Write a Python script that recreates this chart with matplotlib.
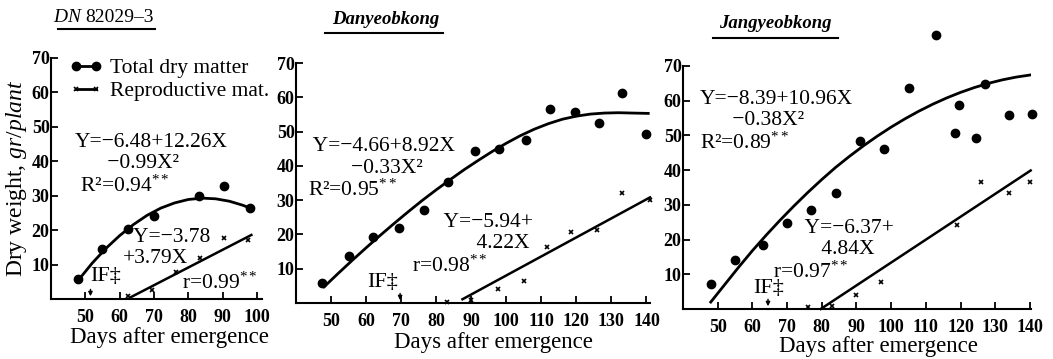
import matplotlib
matplotlib.use("Agg")
import matplotlib.pyplot as plt
from matplotlib.lines import Line2D

plt.rcParams['font.family'] = ['Liberation Serif', 'DejaVu Serif']
plt.rcParams['mathtext.fontset'] = 'custom'
plt.rcParams['mathtext.rm'] = 'Liberation Serif'
plt.rcParams['mathtext.it'] = 'Liberation Serif:italic'

# --- data ---
# DN82029-3
p1_days = [48, 55, 62.5, 70, 83, 90.5, 98]
p1_total = [5.7, 14.4, 20.2, 24.1, 29.8, 32.7, 26.3]
p1_rep_days = [62.5, 69.5, 76.5, 83.5, 90.5, 97.5]
p1_rep = [1.0, 2.6, 7.9, 11.8, 17.8, 17.0]
p1_fit_days = [48, 52, 56, 60, 64, 68, 72, 76, 80, 84, 88, 92, 96, 98]
p1_fit = [5.5, 10.4, 14.7, 18.4, 21.6, 24.3, 26.4, 27.9, 28.9, 29.3, 29.1, 28.4, 27.2, 26.4]
p1_rep_fit_days = [63.2, 98.4]
p1_rep_fit = [0.5, 18.6]

# Danyeobkong
p2_days = [47.5, 55, 62, 69.5, 76.5, 83.5, 91, 98, 105.5, 112.5, 119.5, 126.5, 133, 140]
p2_total = [5.9, 13.7, 19.3, 22.0, 27.1, 35.2, 44.2, 44.9, 47.6, 56.6, 55.8, 52.4, 61.3, 49.3]
p2_rep_days = [83, 90, 97.5, 105, 111.5, 118.5, 126, 133, 141]
p2_rep = [0.3, 1.0, 4.0, 6.4, 16.2, 20.6, 21.3, 32.0, 30.0]
p2_fit_days = [48, 52, 56, 60, 64, 68, 72, 76, 80, 84, 88, 92, 96, 100, 104, 108,
               112, 116, 120, 124, 128, 132, 136, 140.5]
p2_fit = [4.7, 8.6, 12.4, 16.1, 19.7, 23.2, 26.6, 29.9, 33.0, 36.0, 38.9, 41.6, 44.2,
          46.6, 48.8, 50.7, 52.3, 53.6, 54.5, 55.1, 55.4, 55.5, 55.4, 55.3]
p2_rep_fit_days = [87.5, 141]
p2_rep_fit = [1.1, 30.8]

# Jangyeobkong
p3_days = [48, 55, 63, 70, 77, 84, 91, 98, 105, 113, 118.5, 119.5, 124.5, 127, 134, 140.5]
p3_total = [7.1, 14.0, 18.5, 24.8, 28.4, 33.5, 48.3, 46.1, 63.7, 79.0, 50.8, 58.7,
            49.3, 64.7, 55.9, 56.3]
p3_rep_days = [76, 83, 90, 97, 119, 126, 134, 140]
p3_rep = [0.5, 0.8, 4.1, 7.7, 24.3, 36.7, 33.5, 36.7]
p3_fit_days = [48, 52, 56, 60, 64, 68, 72, 76, 80, 84, 88, 92, 96, 100, 104, 108,
               112, 116, 120, 124, 128, 132, 136, 140]
p3_fit = [2.0, 7.0, 12.0, 16.8, 21.3, 25.6, 29.7, 33.6, 37.3, 40.8, 44.0, 47.0, 49.8,
          52.4, 54.8, 57.0, 59.0, 60.8, 62.4, 63.8, 65.0, 66.0, 66.8, 67.4]
p3_rep_fit_days = [79.7, 140.2]
p3_rep_fit = [0.0, 39.9]

y_ticks = [10, 20, 30, 40, 50, 60, 70]
x_ticks_short = [50, 60, 70, 80, 90, 100]
x_ticks_long = [50, 60, 70, 80, 90, 100, 110, 120, 130, 140]

W, H = 1053, 359
fig = plt.figure(figsize=(W / 100, H / 100), dpi=100)


def px_axes(left, right, top, bottom):
    return fig.add_axes([left / W, 1 - bottom / H, (right - left) / W, (bottom - top) / H])


def style(ax, xlim, xticks, label_x, label_y):
    ax.set_xlim(*xlim)
    ax.set_ylim(0, 70)
    ax.set_xticks(xticks, [str(t) for t in xticks], fontweight='bold')
    ax.set_yticks(y_ticks, [str(t) for t in y_ticks], fontweight='bold')
    for s in ['top', 'right']:
        ax.spines[s].set_visible(False)
    for s in ['left', 'bottom']:
        ax.spines[s].set_linewidth(1.5)
    ax.tick_params(direction='in', length=5, width=1.3, labelsize=13)
    ax.tick_params(axis='x', pad=7)
    ax.tick_params(axis='y', pad=1)
    ax.set_xlabel('Days after emergence', fontsize=16.5)
    ax.xaxis.set_label_coords(label_x, label_y)


def draw(ax, days, total, rdays, rep, fdays, fit, rfdays, rfit):
    ax.plot(fdays, fit, color='black', lw=2)
    ax.plot(days, total, 'o', color='black', ms=6, clip_on=False)
    ax.plot(rfdays, rfit, color='black', lw=1.8, clip_on=False)
    ax.plot(rdays, rep, 'x', color='black', ms=3.5, mew=1.2, clip_on=False)


def if_mark(ax, x, tx, ty):
    ax.text(tx, ty, 'IF‡', fontsize=16, va='center')
    ax.annotate('', xy=(x, 0), xytext=(x, 3.6),
                arrowprops=dict(arrowstyle='-|>', lw=1, color='black', mutation_scale=6))


eq = dict(fontsize=15.5, va='center', linespacing=1.15)

# panel 1
ax1 = px_axes(51, 262, 58, 299)
style(ax1, (40, 101.5), x_ticks_short, 0.56, -0.115)
draw(ax1, p1_days, p1_total, p1_rep_days, p1_rep, p1_fit_days, p1_fit,
     p1_rep_fit_days, p1_rep_fit)
ax1.set_ylabel('Dry weight, $\\mathit{gr/plant}$', fontsize=17, labelpad=2)
ax1.text(47, 39.0, 'Y=−6.48+12.26X\n      −0.99X²\n R²=0.94$^{**}$', **eq)
ax1.text(61, 14.8, '  Y=−3.78\n+3.79X', **eq)
ax1.text(78.2, 4.6, 'r=0.99$^{**}$', **eq)
if_mark(ax1, 51.5, 51.4, 6.4)
handles = [Line2D([], [], color='black', lw=2, marker='o', ms=6),
           Line2D([], [], color='black', lw=2, marker='x', ms=3.5, mew=1.2)]
ax1.legend(handles, ['Total dry matter', 'Reproductive mat.'], loc='upper left',
           bbox_to_anchor=(0.09, 1.0), frameon=False, fontsize=15.5, numpoints=2,
           handlelength=1.5, handletextpad=0.35, labelspacing=0.15,
           borderaxespad=0, borderpad=0)
fig.text(83 / W, 1 - 18 / H, '$\\mathit{DN}$', fontsize=14, ha='right', va='center')
fig.text(85 / W, 1 - 18 / H, '82029–3', fontsize=14, ha='left', va='center')
fig.add_artist(Line2D([58 / W, 155 / W], [1 - 29 / H, 1 - 29 / H], color='black', lw=1.5))

# panel 2
ax2 = px_axes(296, 650, 63, 303)
style(ax2, (40, 141), x_ticks_long, 0.559, -0.12)
draw(ax2, p2_days, p2_total, p2_rep_days, p2_rep, p2_fit_days, p2_fit,
     p2_rep_fit_days, p2_rep_fit)
ax2.text(43.4, 39.0, ' Y=−4.66+8.92X\n        −0.33X²\nR²=0.95$^{**}$', **eq)
ax2.text(73, 17.0, '      Y=−5.94+\n            4.22X\nr=0.98$^{**}$', **eq)
if_mark(ax2, 69.7, 60.2, 6.0)
fig.text(386 / W, 1 - 19 / H, 'Danyeobkong', fontsize=13.5, style='italic',
         fontweight='bold', ha='center', va='center')
fig.add_artist(Line2D([325 / W, 443 / W], [1 - 33 / H, 1 - 33 / H], color='black', lw=1.5))

# panel 3
ax3 = px_axes(683, 1031, 66, 309)
style(ax3, (40, 140.3), x_ticks_long, 0.563, -0.11)
draw(ax3, p3_days, p3_total, p3_rep_days, p3_rep, p3_fit_days, p3_fit,
     p3_rep_fit_days, p3_rep_fit)
ax3.text(44.9, 53.8, 'Y=−8.39+10.96X\n      −0.38X²\nR²=0.89$^{**}$', **eq)
ax3.text(65.9, 16.8, '      Y=−6.37+\n         4.84X\nr=0.97$^{**}$', **eq)
if_mark(ax3, 64.5, 60.2, 6.0)
fig.text(775 / W, 1 - 24 / H, 'Jangyeobkong', fontsize=13.5, style='italic',
         fontweight='bold', ha='center', va='center')
fig.add_artist(Line2D([713 / W, 838 / W], [1 - 38 / H, 1 - 38 / H], color='black', lw=1.5))

fig.savefig('out.png', dpi=100)
